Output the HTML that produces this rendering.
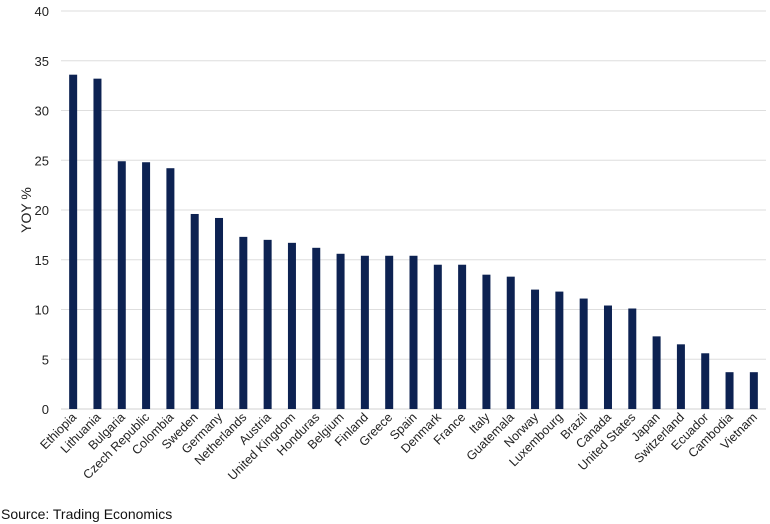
<!DOCTYPE html>
<html><head><meta charset="utf-8"><style>
body{margin:0;background:#fff;font-family:"Liberation Sans",Arial,sans-serif}
</style></head><body>
<svg id="chart" width="770" height="524" xmlns="http://www.w3.org/2000/svg" style="display:block">
<g id="grid"></g><g id="bars"></g><g id="ylabels"></g><g id="xlabels"></g>
<text transform="translate(31,210) rotate(-90)" text-anchor="middle" font-size="14" fill="#222">YOY %</text>
<text x="1" y="519" font-size="14" fill="#111">Source: Trading Economics</text>
</svg>
<script>
const categories=["Ethiopia","Lithuania","Bulgaria","Czech Republic","Colombia","Sweden","Germany","Netherlands","Austria","United Kingdom","Honduras","Belgium","Finland","Greece","Spain","Denmark","France","Italy","Guatemala","Norway","Luxembourg","Brazil","Canada","United States","Japan","Switzerland","Ecuador","Cambodia","Vietnam"];
const values=[33.6,33.2,24.9,24.8,24.2,19.6,19.2,17.3,17.0,16.7,16.2,15.6,15.4,15.4,15.4,14.5,14.5,13.5,13.3,12.0,11.8,11.1,10.4,10.1,7.3,6.5,5.6,3.7,3.7];
const yTicks=[0,5,10,15,20,25,30,35,40];
const NS="http://www.w3.org/2000/svg";
const L=61,R=766,T=11,B=409,yMax=40;
const y=v=>B-(v/yMax)*(B-T);
const step=(R-L)/categories.length;
const x=i=>L+step*(i+0.5);
const grid=document.getElementById('grid'),bars=document.getElementById('bars'),yl=document.getElementById('ylabels'),xl=document.getElementById('xlabels');
yTicks.forEach(t=>{
 const ln=document.createElementNS(NS,'line');
 
 
 ln.setAttribute('x1',L);ln.setAttribute('x2',R);ln.setAttribute('y1',y(t));ln.setAttribute('y2',y(t));
 ln.setAttribute('stroke',t===0?'#d0d0d0':'#dedede');ln.setAttribute('stroke-width','1');
 grid.appendChild(ln);
 const tx=document.createElementNS(NS,'text');
 
 
 tx.setAttribute('x',49);tx.setAttribute('y',y(t)+5);tx.setAttribute('text-anchor','end');tx.setAttribute('font-size','13');tx.setAttribute('fill','#222');
 tx.textContent=t;yl.appendChild(tx);
});
categories.forEach((c,i)=>{
 const r=document.createElementNS(NS,'rect');
 
 
 r.setAttribute('x',x(i)-4);r.setAttribute('width',8);r.setAttribute('y',y(values[i]));r.setAttribute('height',B-y(values[i]));
 r.setAttribute('fill','#0d2252');bars.appendChild(r);
 const tx=document.createElementNS(NS,'text');
 
 
 tx.setAttribute('transform','translate('+(x(i)+4)+',418) rotate(-45)');
 tx.setAttribute('text-anchor','end');tx.setAttribute('font-size','12.5');tx.setAttribute('fill','#222');
 tx.textContent=c;xl.appendChild(tx);
});
</script>
</body></html>
